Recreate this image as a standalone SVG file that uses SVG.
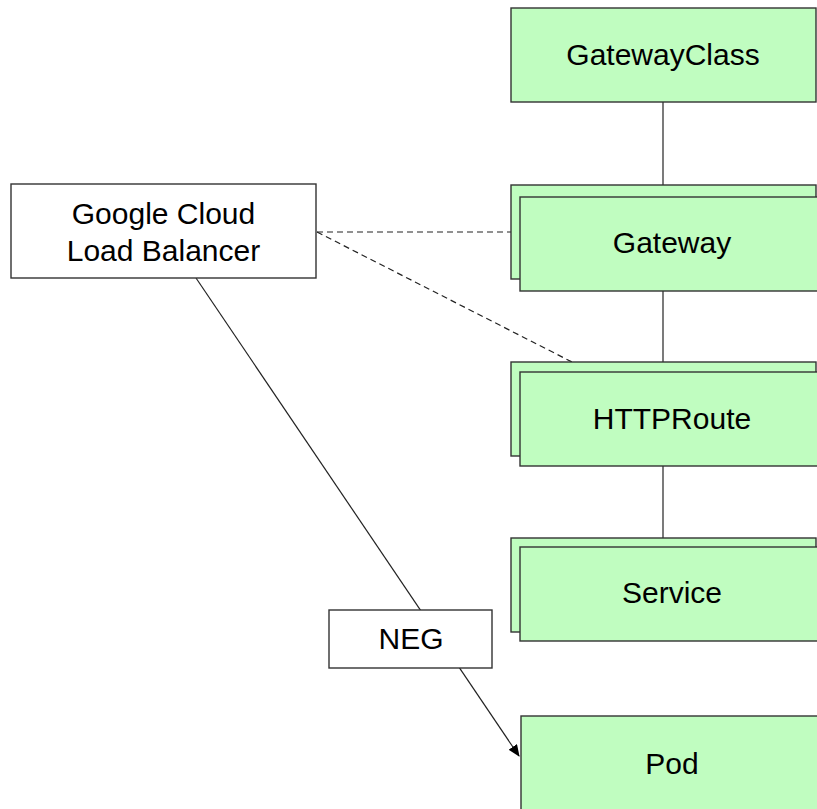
<svg xmlns="http://www.w3.org/2000/svg" width="817" height="809" viewBox="0 0 817 809">
<style>
.k{fill:#c0fdc0;stroke:#333;stroke-width:1.4}
.w{fill:#ffffff;stroke:#333;stroke-width:1.4}
text{font-family:"Liberation Sans",Arial,Helvetica,sans-serif;font-size:30px;fill:#000;text-anchor:middle}
.c{fill:none;stroke:#222;stroke-width:1.2}
.d{fill:none;stroke:#222;stroke-width:1.2;stroke-dasharray:6 4}
</style>
<defs>
<marker id="ah" markerWidth="12" markerHeight="10" refX="11" refY="5" orient="auto" markerUnits="userSpaceOnUse">
<path d="M0,0 L12,5 L0,10 Z" fill="#000"/>
</marker>
</defs>
<rect width="817" height="809" fill="#fff"/>
<g id="connectors">
<line class="c" x1="663" y1="102" x2="663" y2="185"/>
<line class="c" x1="663" y1="291" x2="663" y2="362"/>
<line class="c" x1="663" y1="466" x2="663" y2="538"/>
<line class="d" x1="317" y1="232" x2="511" y2="232"/>
<line class="d" x1="317" y1="232" x2="572" y2="362"/>
<line class="c" x1="196" y1="278" x2="519" y2="756" marker-end="url(#ah)"/>
</g>
<g id="gatewayclass">
<rect class="k" x="511" y="8" width="305" height="94"/>
<text x="663" y="65">GatewayClass</text>
</g>
<g id="gateway">
<rect class="k" x="511" y="185" width="305" height="94"/>
<rect class="k" x="520" y="197" width="305" height="94"/>
<text x="672" y="253">Gateway</text>
</g>
<g id="httproute">
<rect class="k" x="511" y="362" width="305" height="94"/>
<rect class="k" x="520" y="372" width="305" height="94"/>
<text x="672" y="429">HTTPRoute</text>
</g>
<g id="service">
<rect class="k" x="511" y="538" width="305" height="94"/>
<rect class="k" x="520" y="547" width="305" height="94"/>
<text x="672" y="603">Service</text>
</g>
<g id="pod">
<rect class="k" x="521" y="716" width="305" height="110"/>
<text x="672" y="774">Pod</text>
</g>
<g id="gclb">
<rect class="w" x="11" y="184" width="305" height="94"/>
<text x="163.5" y="224">Google Cloud</text>
<text x="163.5" y="261">Load Balancer</text>
</g>
<g id="neg">
<rect class="w" x="329" y="610" width="163" height="58"/>
<text x="411" y="649">NEG</text>
</g>
</svg>
